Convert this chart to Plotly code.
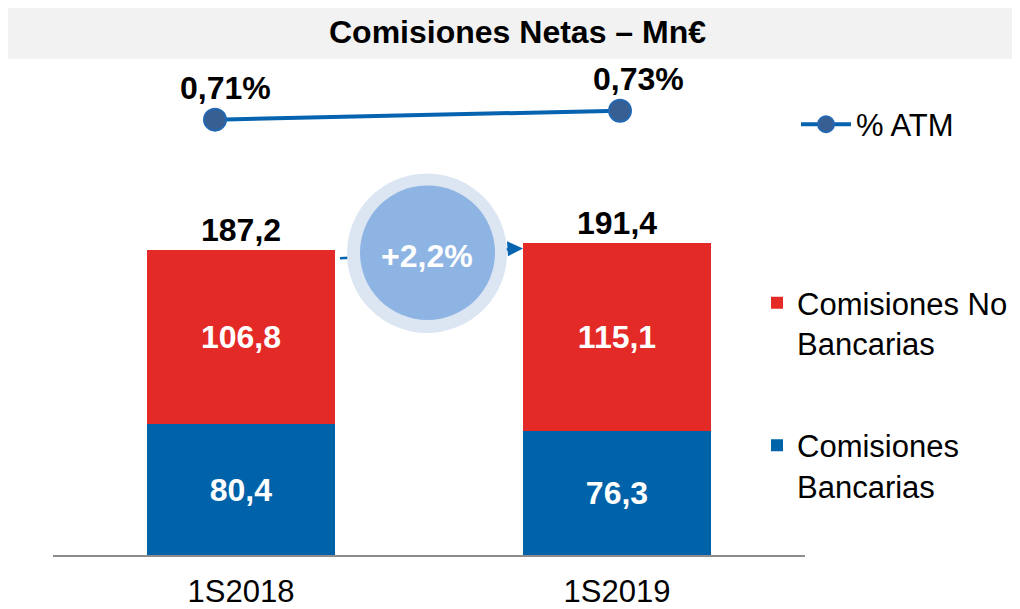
import plotly.graph_objects as go

periods = ["1S2018", "1S2019"]
bancarias = [80.4, 76.3]
no_bancarias = [106.8, 115.1]
atm = [0.71, 0.73]
growth_label = "+2,2%"
title_text = "Comisiones Netas – Mn€"

# page body has an 8px margin: work in reference pixels, convert with offset
OFF = 8
W, H = 1020 - OFF, 609 - OFF
FONT = "Arial, Liberation Sans, sans-serif"
RED = "#E42A27"
BLUE = "#0062A8"
LINE_BLUE = "#0563B0"


def px(x):
    return (x - OFF) / W


def py(y):
    return 1 - (y - OFF) / H


def fmt(v, d=1):
    return f"{v:.{d}f}".replace(".", ",")


totals = [a + b for a, b in zip(bancarias, no_bancarias)]

fig = go.Figure()

fig.add_trace(go.Bar(
    x=periods, y=bancarias, name="Comisiones<br>Bancarias",
    marker=dict(color=BLUE, line=dict(width=0)), width=0.5,
    texttemplate="%{y:.1f}", textposition="inside", insidetextanchor="middle",
    textfont=dict(family=FONT, size=32, color="white", weight="bold"),
    legend="legend3", xaxis="x", yaxis="y",
))
fig.add_trace(go.Bar(
    x=periods, y=no_bancarias, name="Comisiones No<br>Bancarias",
    marker=dict(color=RED, line=dict(width=0)), width=0.5,
    texttemplate="%{y:.1f}", textposition="inside", insidetextanchor="middle",
    textfont=dict(family=FONT, size=32, color="white", weight="bold"),
    legend="legend2", xaxis="x", yaxis="y",
))
fig.add_trace(go.Scatter(
    x=periods, y=atm, name="% ATM", mode="lines+markers",
    line=dict(color=LINE_BLUE, width=4),
    marker=dict(size=22, color="#375F92", line=dict(color="#2468B2", width=2)),
    legend="legend", xaxis="x2", yaxis="y2",
))

annotations = []
# totals above bars
for p, t in zip(periods, totals):
    annotations.append(dict(
        x=p, y=t, xref="x", yref="y", text=fmt(t), showarrow=False,
        yanchor="bottom", yshift=0,
        font=dict(family=FONT, size=32, color="black", weight="bold"),
    ))
# % labels above line points
shifts = [10, 18]
for p, v, s in zip(periods, atm, shifts):
    annotations.append(dict(
        x=p, y=v, xref="x2", yref="y2", text=fmt(v, 2) + "%", showarrow=False,
        yanchor="bottom", yshift=12, xshift=s,
        font=dict(family=FONT, size=32, color="black", weight="bold"),
    ))
# title
annotations.append(dict(
    x=px(517), y=py(32), xref="paper", yref="paper", text=title_text,
    showarrow=False, xanchor="center", yanchor="middle",
    font=dict(family=FONT, size=32, color="black", weight="bold"),
))
# growth bubble text
annotations.append(dict(
    x=px(427), y=py(257), xref="paper", yref="paper", text=growth_label,
    showarrow=False, xanchor="center", yanchor="middle",
    font=dict(family=FONT, size=32, color="white", weight="bold"),
))

shapes = [
    # title band
    dict(type="rect", xref="paper", yref="paper", x0=px(6), x1=px(1030),
         y0=py(59), y1=py(5), fillcolor="#F2F2F2", line=dict(width=0), layer="below"),
    # arrow shaft
    dict(type="line", xref="paper", yref="paper", x0=px(340), y0=py(259),
         x1=px(510), y1=py(250), line=dict(color=LINE_BLUE, width=2.5), layer="above"),
    # arrow head
    dict(type="path", xref="paper", yref="paper",
         path=f"M {px(523)},{py(249.3)} L {px(507)},{py(242)} L {px(508)},{py(257)} Z",
         fillcolor=LINE_BLUE, line=dict(width=0), layer="above"),
    # bubble outer ring
    dict(type="circle", xref="paper", yref="paper", x0=px(347), x1=px(507),
         y0=py(334), y1=py(174), fillcolor="#DCE6F2", line=dict(width=0), layer="above"),
    # bubble inner
    dict(type="circle", xref="paper", yref="paper", x0=px(360), x1=px(495),
         y0=py(321), y1=py(186), fillcolor="#8EB4E3", line=dict(width=0), layer="above"),
]

legend_common = dict(
    xref="paper", yref="paper", bgcolor="rgba(0,0,0,0)", borderwidth=0,
    font=dict(family=FONT, size=31, color="black"), valign="top",
    tracegroupgap=0, itemclick=False, itemdoubleclick=False,
)

fig.update_layout(
    width=W, height=H, margin=dict(l=0, r=0, t=0, b=0),
    paper_bgcolor="white", plot_bgcolor="rgba(0,0,0,0)",
    barmode="stack", separators=",.",
    font=dict(family=FONT, color="black"),
    xaxis=dict(domain=[px(53), px(805)], type="category", range=[-0.5, 1.5],
               showline=True, linecolor="#8C8C8C", linewidth=2,
               ticks="", showgrid=False, zeroline=False, anchor="y",
               tickfont=dict(family=FONT, size=31, color="black"),
               ticklabelstandoff=8),
    yaxis=dict(domain=[py(557), py(102)], range=[0, 455 / 1.636],
               visible=False, showgrid=False, zeroline=False, anchor="x"),
    xaxis2=dict(domain=[px(53), px(805)], type="category",
                range=[(53 - 215) / 405, (805 - 215) / 405],
                visible=False, anchor="y2"),
    yaxis2=dict(domain=[py(200), py(60)], range=[0.71 - 80 / 450, 0.71 - 80 / 450 + 140 / 450],
                visible=False, anchor="x2"),
    showlegend=True,
    legend=dict(x=px(796), y=py(125), xanchor="left", yanchor="middle",
                itemwidth=50, **legend_common),
    legend2=dict(x=px(757), y=py(277), xanchor="left", yanchor="top", **legend_common),
    legend3=dict(x=px(757), y=py(420), xanchor="left", yanchor="top", **legend_common),
    annotations=annotations,
    shapes=shapes,
)

fig.write_html("out.html")
